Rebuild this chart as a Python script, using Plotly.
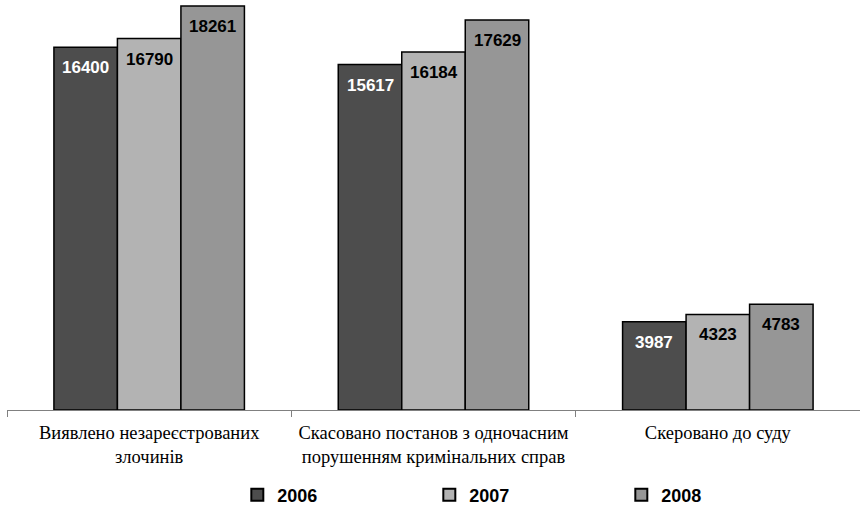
import plotly.graph_objects as go

# Categories and yearly values
categories = [
    "Виявлено незареєстрованих<br>злочинів",
    "Скасовано постанов з одночасним<br>порушенням кримінальних справ",
    "Скеровано до суду",
]
years = ["2006", "2007", "2008"]
values_2006 = [16400, 15617, 3987]
values_2007 = [16790, 16184, 4323]
values_2008 = [18261, 17629, 4783]

series = [values_2006, values_2007, values_2008]
colors = ["#4d4d4d", "#b3b3b3", "#969696"]
label_colors = ["white", "black", "black"]

bargap = 0.33
bar_w = (1 - bargap) / len(years)

fig = go.Figure()
for year, vals, col in zip(years, series, colors):
    fig.add_trace(go.Bar(
        x=categories, y=vals, name=year,
        marker=dict(color=col, line=dict(color="black", width=1.5)),
    ))

# Value labels just inside the top of each bar
for j, (vals, tc) in enumerate(zip(series, label_colors)):
    for i, v in enumerate(vals):
        fig.add_annotation(
            x=i + (j - 1) * bar_w, y=v, xref="x", yref="y",
            text=str(v), showarrow=False, yanchor="top", yshift=-9,
            font=dict(family="Liberation Sans", size=17, color=tc, weight="bold"),
        )

fig.update_layout(
    width=860, height=506,
    margin=dict(l=7, r=0, t=3, b=96, autoexpand=False),
    plot_bgcolor="white", paper_bgcolor="white",
    barmode="group", bargap=bargap, bargroupgap=0,
    showlegend=True,
    legend=dict(
        orientation="h", x=0.270, xanchor="left",
        y=-0.209, yref="paper", yanchor="middle",
        entrywidth=147, entrywidthmode="pixels",
        font=dict(family="Liberation Sans", size=18, color="black", weight="bold"),
        itemsizing="constant",
    ),
)
fig.update_xaxes(
    type="category", range=[-0.5, 2.5], automargin=False,
    showline=True, linecolor="#808080", linewidth=1,
    ticks="outside", tickson="boundaries", ticklen=6, tickcolor="#808080",
    ticklabelstandoff=6,
    tickfont=dict(family="Liberation Serif", size=18.5, color="black"),
    showgrid=False,
)
fig.update_yaxes(range=[0, 18400], visible=False)

fig.write_html("out.html")
